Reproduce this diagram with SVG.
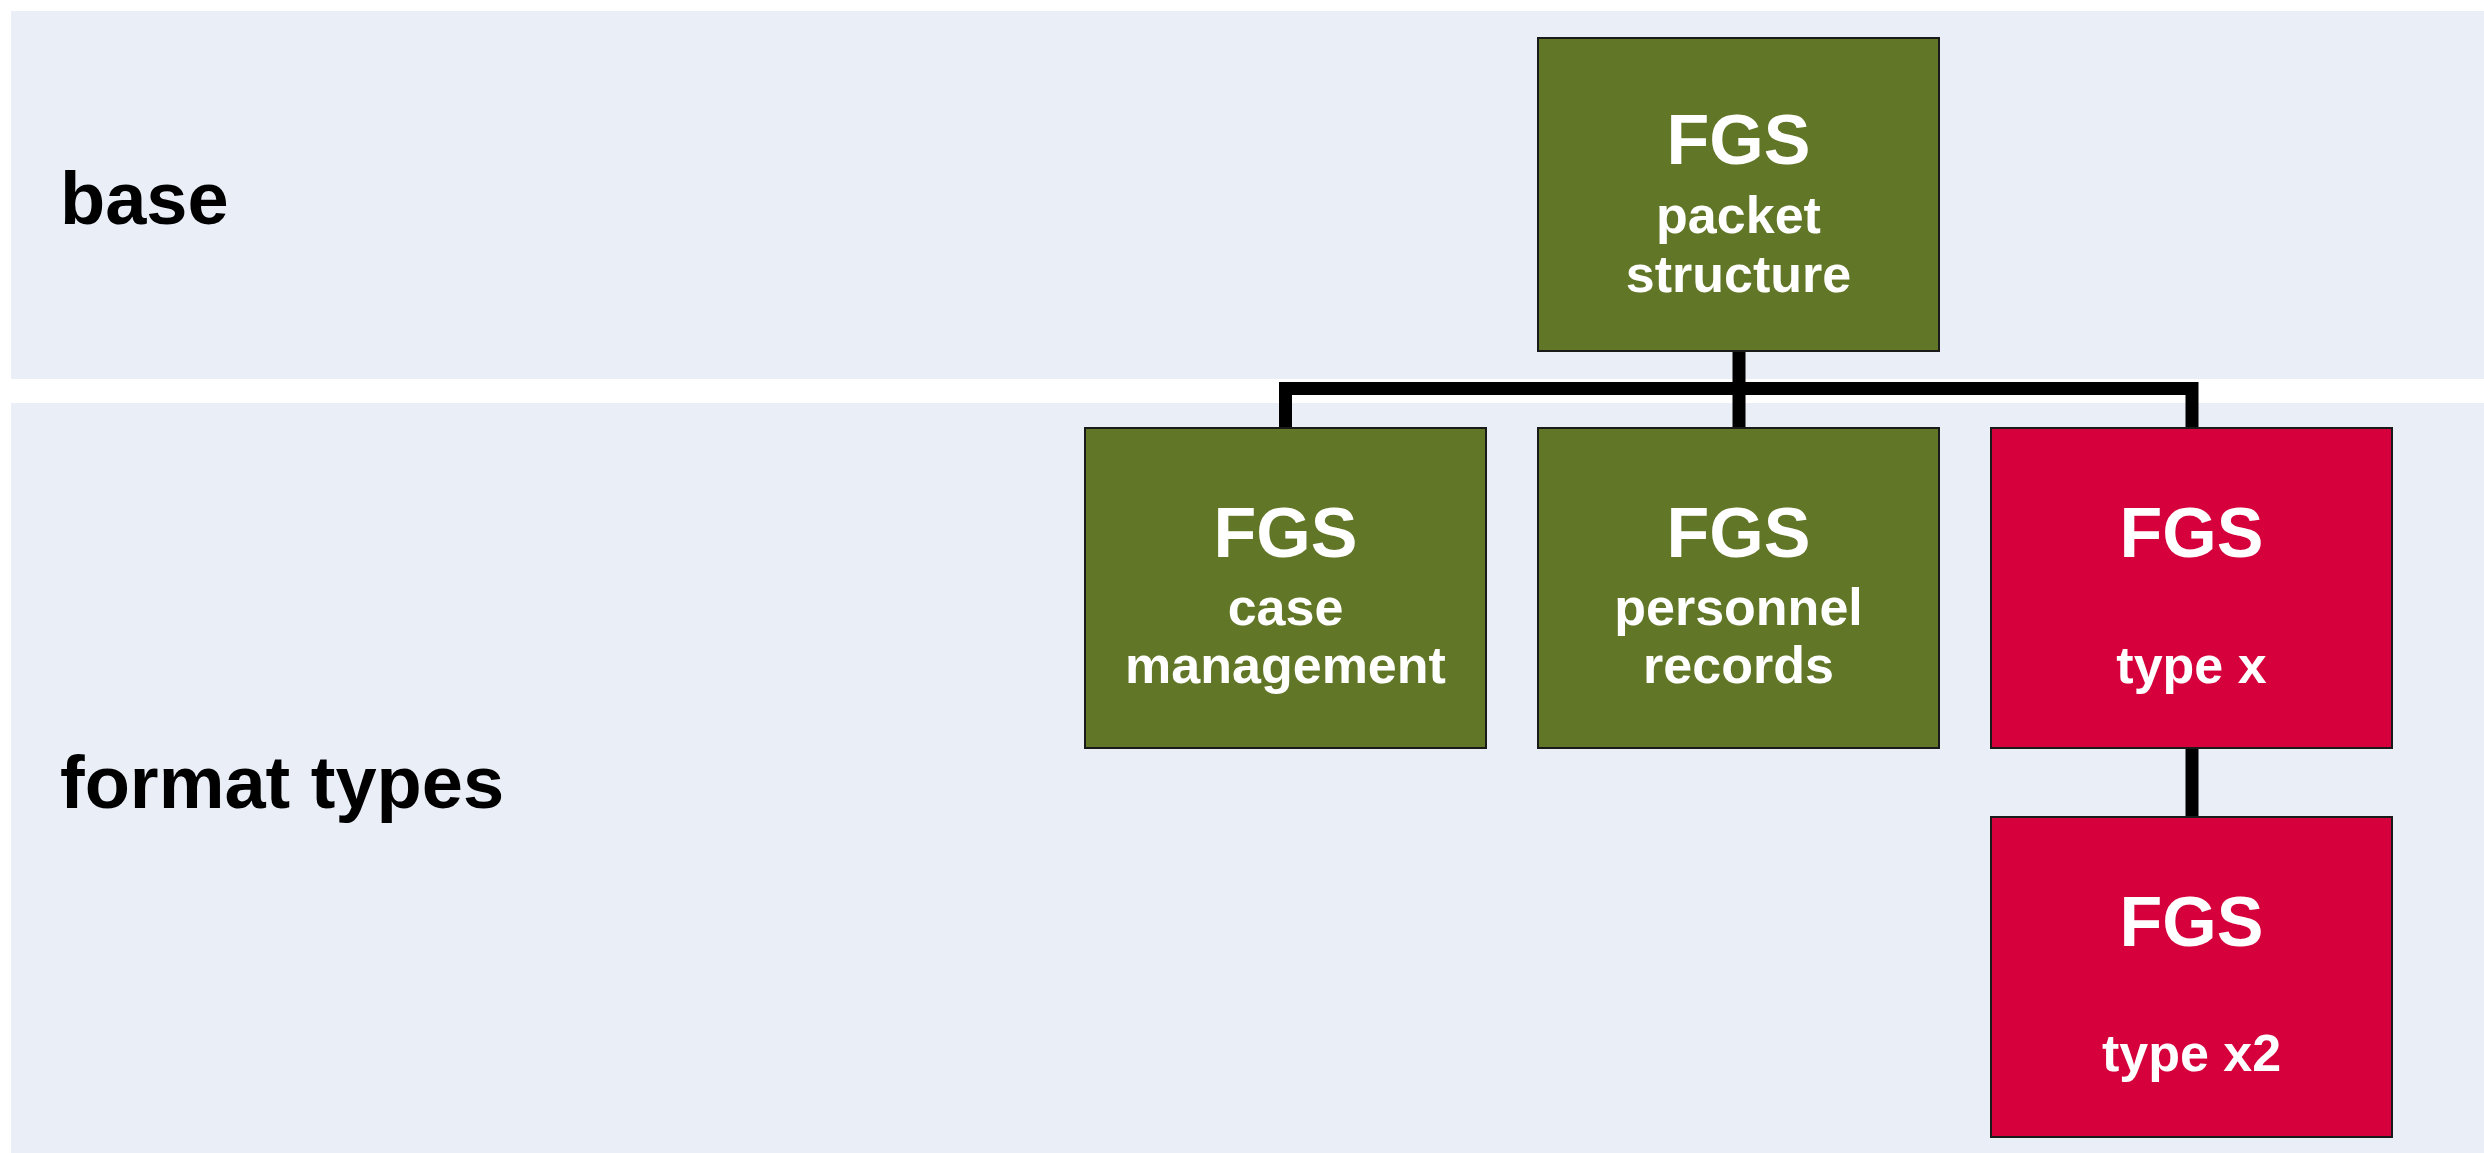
<svg xmlns="http://www.w3.org/2000/svg" width="2484" height="1153" viewBox="0 0 2484 1153">
  <style>
    .band { fill: #EAEEF7; }
    .lane { font-family: "Liberation Sans", Arial, sans-serif; font-weight: bold; font-size: 74px; fill: #000000; }
    .box { stroke: #1a1a1a; stroke-width: 2; }
    .green { fill: #617626; }
    .red { fill: #D6003C; }
    .title { font-family: "Liberation Sans", Arial, sans-serif; font-weight: bold; font-size: 70px; fill: #FFFFFF; text-anchor: middle; }
    .sub { font-family: "Liberation Sans", Arial, sans-serif; font-weight: bold; font-size: 52px; fill: #FFFFFF; text-anchor: middle; }
    .conn { fill: none; stroke: #000000; stroke-width: 13; stroke-linejoin: miter; stroke-linecap: butt; }
  </style>
  <rect x="0" y="0" width="2484" height="1153" fill="#FFFFFF"/>
  <g id="lanes">
    <rect class="band" x="11" y="11" width="2473" height="368"/>
    <rect class="band" x="11" y="403" width="2473" height="750"/>
    <text class="lane" x="60" y="224">base</text>
    <text class="lane" x="60" y="808">format types</text>
  </g>
  <g id="connectors">
    <path class="conn" d="M1285.5,428 V388.5 H2192 V428"/>
    <path class="conn" d="M1739,351 V428"/>
    <path class="conn" d="M2192,748 V817"/>
  </g>
  <g id="node-packet-structure">
    <rect class="box green" x="1538" y="38" width="401" height="313"/>
    <text class="title" x="1738.5" y="164">FGS</text>
    <text class="sub" x="1738.5" y="233">packet</text>
    <text class="sub" x="1738.5" y="292">structure</text>
  </g>
  <g id="node-case-management">
    <rect class="box green" x="1085" y="428" width="401" height="320"/>
    <text class="title" x="1285.5" y="557">FGS</text>
    <text class="sub" x="1285.5" y="625">case</text>
    <text class="sub" x="1285.5" y="683">management</text>
  </g>
  <g id="node-personnel-records">
    <rect class="box green" x="1538" y="428" width="401" height="320"/>
    <text class="title" x="1738.5" y="557">FGS</text>
    <text class="sub" x="1738.5" y="625">personnel</text>
    <text class="sub" x="1738.5" y="683">records</text>
  </g>
  <g id="node-type-x">
    <rect class="box red" x="1991" y="428" width="401" height="320"/>
    <text class="title" x="2191.5" y="557">FGS</text>
    <text class="sub" x="2191.5" y="683">type x</text>
  </g>
  <g id="node-type-x2">
    <rect class="box red" x="1991" y="817" width="401" height="320"/>
    <text class="title" x="2191.5" y="946">FGS</text>
    <text class="sub" x="2191.5" y="1071">type x2</text>
  </g>
</svg>
